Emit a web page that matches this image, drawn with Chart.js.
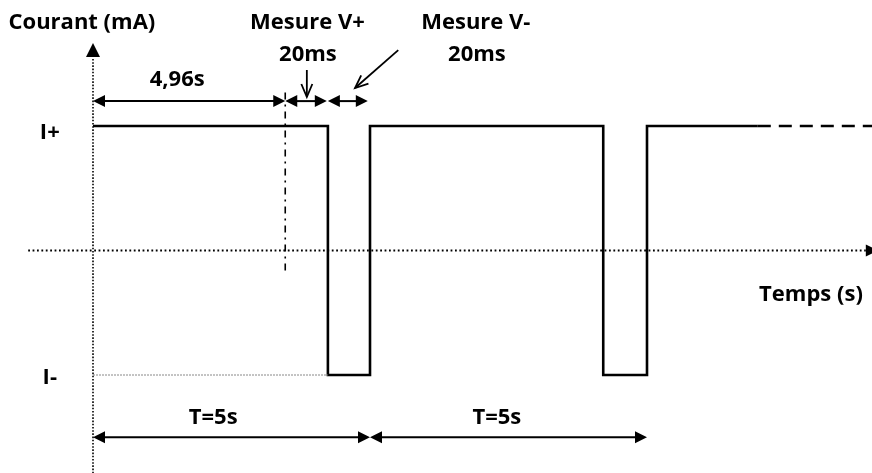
<!DOCTYPE html>
<html><head><meta charset="utf-8">
<script src="https://cdn.jsdelivr.net/npm/chart.js@4"></script>
<style>html,body{margin:0;padding:0;background:#fff}#wrap{width:872px;height:473px;position:relative}</style>
</head><body><div id="wrap"><canvas id="c"></canvas></div>
<script>
// Square-wave current (schematic time units, I+ = 1, I- = -1)
const waveT = [0, 4.24, 4.24, 5.0, 5.0, 9.21, 9.21, 10.0, 10.0, 12.0];
const waveI = [1, 1, -1, -1, 1, 1, -1, -1, 1, 1];
const tailT = [12.0, 14.1];
const tailI = [1, 1];
// Reference lines
const measureT = 3.47;            // dash-dot marker (start of V+ measurement)
const measureRange = [1.27, -0.2];
const iMinusRefT = [0, 4.24];
const axisTRange = [-1.17, 13.95];
const axisIRange = [-1.79, 1.55];
// Dimension arrows
const spanStart = [0, 3.47, 4.24, 0, 5.0];
const spanEnd   = [3.47, 4.22, 4.96, 5.0, 10.0];
const spanLevel = [1.2, 1.2, 1.2, -1.5, -1.5];
// Texts
const labelText = ['Courant (mA)', 'Mesure V+', '20ms', 'Mesure V-', '20ms', '4,96s', 'I+', 'I-', 'T=5s', 'T=5s', 'Temps (s)'];
const labelT    = [-0.2, 3.87, 3.88, 6.91, 6.93, 1.52, -0.78, -0.78, 2.17, 7.29, 12.96];
const labelI    = [1.83, 1.83, 1.57, 1.83, 1.57, 1.369, 0.944, -1.024, -1.345, -1.345, -0.357];
// Pointer arrows [fromT, fromI, toT, toI]
const pointerV = [3.86, 1.45, 3.86, 1.233];
const pointerD = [5.51, 1.61, 4.73, 1.305];

const pts = (xs, ys) => xs.map((x, i) => ({x, y: ys[i]}));

const schematic = {
  id: 'schematic',
  afterDatasetsDraw(chart) {
    const {ctx, scales: {x, y}} = chart;
    const px = v => x.getPixelForValue(v), py = v => y.getPixelForValue(v);
    ctx.save();
    ctx.fillStyle = '#000'; ctx.strokeStyle = '#000';
    const head = (tx, ty, ang, len, hw) => {
      ctx.beginPath();
      ctx.moveTo(tx, ty);
      ctx.lineTo(tx - len*Math.cos(ang) + hw*Math.sin(ang), ty - len*Math.sin(ang) - hw*Math.cos(ang));
      ctx.lineTo(tx - len*Math.cos(ang) - hw*Math.sin(ang), ty - len*Math.sin(ang) + hw*Math.cos(ang));
      ctx.closePath(); ctx.fill();
    };
    const openHead = (tx, ty, ang, len, hw) => {
      ctx.beginPath();
      ctx.moveTo(tx - len*Math.cos(ang) + hw*Math.sin(ang), ty - len*Math.sin(ang) - hw*Math.cos(ang));
      ctx.lineTo(tx, ty);
      ctx.lineTo(tx - len*Math.cos(ang) - hw*Math.sin(ang), ty - len*Math.sin(ang) + hw*Math.cos(ang));
      ctx.stroke();
    };
    // axis arrowheads
    head(px(0), py(1.667), -Math.PI/2, 14, 7);
    head(px(axisTRange[1]) + 12, py(0), 0, 12, 6);
    // dimension arrows
    ctx.lineWidth = 2;
    spanStart.forEach((s, i) => {
      const x1 = px(s), x2 = px(spanEnd[i]), yy = py(spanLevel[i]);
      const L = Math.min(12, (x2 - x1) / 2.6);
      ctx.beginPath(); ctx.moveTo(x1 + L - 1, yy); ctx.lineTo(x2 - L + 1, yy); ctx.stroke();
      head(x1, yy, Math.PI, L, 6);
      head(x2, yy, 0, L, 6);
    });
    // pointer arrows
    [pointerV, pointerD].forEach(p => {
      const x1 = px(p[0]), y1 = py(p[1]), x2 = px(p[2]), y2 = py(p[3]);
      const ang = Math.atan2(y2 - y1, x2 - x1);
      ctx.lineWidth = 1.8;
      ctx.beginPath(); ctx.moveTo(x1, y1); ctx.lineTo(x2, y2); ctx.stroke();
      openHead(x2, y2, ang, 13, 5.5);
    });
    // texts
    ctx.font = 'bold 22px "Open Sans"';
    ctx.textAlign = 'center'; ctx.textBaseline = 'middle';
    labelText.forEach((t, i) => ctx.fillText(t, px(labelT[i]), py(labelI[i])));
    ctx.restore();
  }
};

new Chart(document.getElementById('c'), {
  type: 'scatter',
  data: {
    datasets: [
      {data: pts([0, 0], axisIRange), borderColor: '#000', borderWidth: 1.6, borderDash: [1.6, 1.6]},
      {data: pts(axisTRange, [0, 0]), borderColor: '#000', borderWidth: 1.8, borderDash: [1.8, 2.6]},
      {data: pts(iMinusRefT, [-1, -1]), borderColor: '#888', borderWidth: 1, borderDash: [2, 1]},
      {data: pts([measureT, measureT], measureRange), borderColor: '#000', borderWidth: 1.6, borderDash: [7, 5, 2, 5]},
      {data: pts(waveT, waveI), borderColor: '#000', borderWidth: 2.6, borderJoinStyle: 'miter'},
      {data: pts(tailT, tailI), borderColor: '#000', borderWidth: 2.6, borderDash: [13, 8]}
    ]
  },
  options: {
    responsive: true, maintainAspectRatio: false, animation: false,
    showLine: true,
    elements: {point: {radius: 0, hoverRadius: 0}, line: {tension: 0}},
    layout: {padding: 0},
    plugins: {legend: {display: false}, tooltip: {enabled: false}},
    scales: {
      x: {type: 'linear', display: false, min: -93/55.4, max: 779/55.4},
      y: {type: 'linear', display: false, min: -222.5/124.5, max: 250.5/124.5}
    }
  },
  plugins: [schematic]
});
</script></body></html>
